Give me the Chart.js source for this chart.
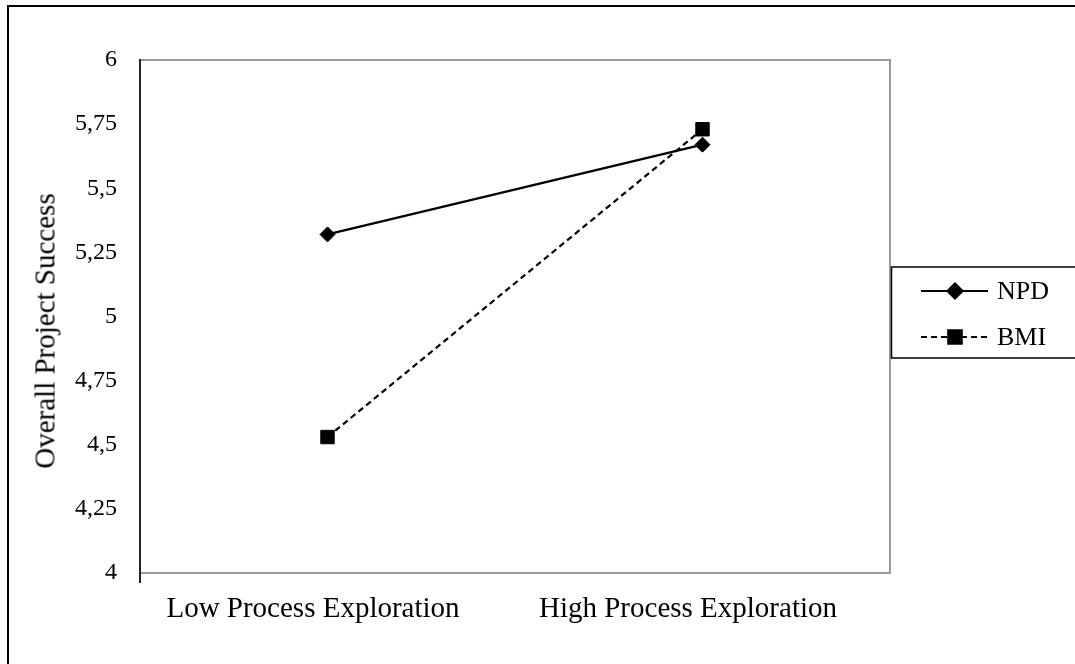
<!DOCTYPE html>
<html>
<head>
<meta charset="utf-8">
<script src="https://cdn.jsdelivr.net/npm/chart.js@4/dist/chart.umd.min.js"></script>
<style>
  html, body { margin: 0; padding: 0; background: #fff; }
  #wrap { position: relative; width: 1075px; height: 664px; overflow: hidden; }
  #yTitle {
    position: absolute; left: 45px; top: 331px;
    transform: translate(-50%, -50%) rotate(-90deg);
    white-space: nowrap; font-family: "Liberation Serif", "Times New Roman", serif;
    font-size: 29px; color: #000; line-height: 1;
  }
</style>
</head>
<body>
<div id="wrap">
  <canvas id="c" width="1075" height="664"></canvas>
  <div id="yTitle">Overall Project Success</div>
</div>
<script>
// Categories and series
const categories = ['Low Process Exploration', 'High Process Exploration'];
const npdValues = [5.32, 5.67];
const bmiValues = [4.53, 5.73];
const seriesNames = ['NPD', 'BMI'];
const yTickLabels = ['4', '4,25', '4,5', '4,75', '5', '5,25', '5,5', '5,75', '6'];

const SERIF = '"Liberation Serif", "Times New Roman", serif';

// Frame around the whole figure and grey border of the plot area
const framePlugin = {
  id: 'frame',
  beforeDraw(chart) {
    const ctx = chart.ctx;
    const a = chart.chartArea;
    ctx.save();
    ctx.fillStyle = '#000';
    ctx.fillRect(7, 5, 1100, 2);
    ctx.fillRect(7, 5, 2, 700);
    ctx.strokeStyle = '#999';
    ctx.lineWidth = 2;
    ctx.strokeRect(a.left, a.top, a.right - a.left, a.bottom - a.top);
    ctx.restore();
  }
};

// Boxed legend with the line sample running through the marker
const legendPlugin = {
  id: 'boxLegend',
  afterDraw(chart) {
    const ctx = chart.ctx;
    ctx.save();
    ctx.strokeStyle = '#000';
    ctx.lineWidth = 1.5;
    ctx.strokeRect(891.5, 267, 300, 91);
    const rows = [291, 337];
    chart.data.datasets.forEach((ds, i) => {
      const y = rows[i];
      ctx.beginPath();
      ctx.setLineDash(ds.borderDash || []);
      ctx.lineWidth = ds.borderWidth;
      ctx.strokeStyle = ds.borderColor;
      ctx.moveTo(921, y);
      ctx.lineTo(988, y);
      ctx.stroke();
      ctx.setLineDash([]);
      ctx.fillStyle = ds.pointBackgroundColor;
      ctx.strokeStyle = ds.pointBorderColor;
      Chart.helpers.drawPoint(ctx, {
        pointStyle: ds.pointStyle, rotation: 0,
        radius: ds.pointRadius, borderWidth: ds.pointBorderWidth
      }, 955, y);
      ctx.fillStyle = '#000';
      ctx.font = '26px ' + SERIF;
      ctx.textAlign = 'left';
      ctx.textBaseline = 'middle';
      ctx.fillText(ds.label, 997, y + 1);
    });
    ctx.restore();
  }
};

new Chart(document.getElementById('c'), {
  type: 'line',
  data: {
    labels: categories,
    datasets: [
      {
        label: seriesNames[0],
        data: npdValues,
        borderColor: '#000', borderWidth: 2.2,
        pointStyle: 'rectRot', pointRadius: 7.5,
        pointBackgroundColor: '#000', pointBorderColor: '#000', pointBorderWidth: 1,
        tension: 0
      },
      {
        label: seriesNames[1],
        data: bmiValues,
        borderColor: '#000', borderWidth: 2.2, borderDash: [6, 4],
        pointStyle: 'rect', pointRadius: 9.5,
        pointBackgroundColor: '#000', pointBorderColor: '#000', pointBorderWidth: 1,
        tension: 0
      }
    ]
  },
  options: {
    responsive: false,
    devicePixelRatio: 1,
    animation: false,
    layout: { padding: { left: 0, top: 60, right: 185, bottom: 0 } },
    plugins: { legend: { display: false }, tooltip: { enabled: false } },
    scales: {
      x: {
        offset: true,
        grid: {
          offset: true,
          drawOnChartArea: false,
          drawTicks: true,
          tickLength: 10,
          lineWidth: 2,
          color: (c) => (c.index === 0 ? '#222' : 'rgba(0,0,0,0)')
        },
        border: { color: '#999', width: 2 },
        ticks: {
          maxRotation: 0,
          padding: 9,
          color: '#000',
          font: { family: SERIF, size: 29 },
          // trailing em space nudges each centred label slightly left
          callback: (v, i) => categories[i] + '\u2003'
        },
        afterFit: (s) => { s.height = 91; }
      },
      y: {
        min: 4, max: 6,
        grid: { display: false, drawTicks: false },
        border: { color: '#222', width: 2 },
        ticks: {
          stepSize: 0.25,
          padding: 23,
          color: '#000',
          font: { family: SERIF, size: 24 },
          callback: (v, i) => yTickLabels[i]
        },
        afterFit: (s) => { s.width = 140; }
      }
    }
  },
  plugins: [framePlugin, legendPlugin]
});
</script>
</body>
</html>
